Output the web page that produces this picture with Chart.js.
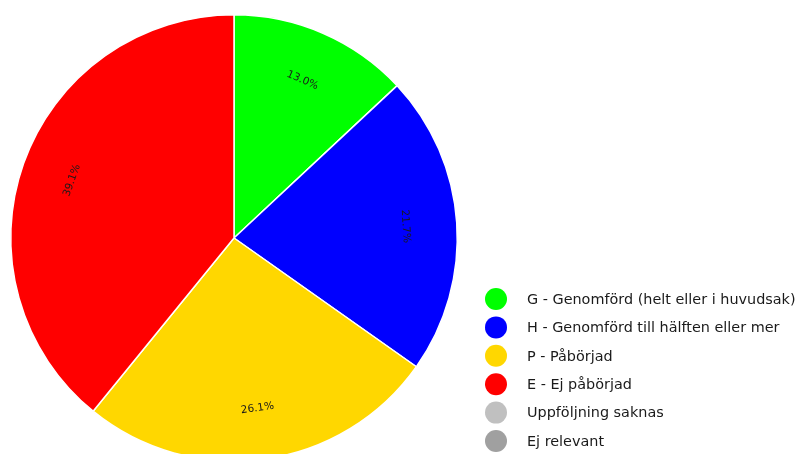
<!DOCTYPE html>
<html><head><meta charset="utf-8">
<script src="https://cdn.jsdelivr.net/npm/chart.js@4"></script>
<style>
html,body{margin:0;padding:0;background:#fff;overflow:hidden;width:800px;height:454px}
#wrap{position:relative;width:800px;height:476px}
</style></head>
<body>
<div id="wrap"><canvas id="c" width="800" height="476"></canvas></div>
<script>
const categories = ["G - Genomförd (helt eller i huvudsak)","H - Genomförd till hälften eller mer","P - Påbörjad","E - Ej påbörjad","Uppföljning saknas","Ej relevant"];
const counts = [3,5,6,9,0,0];
const colors = ["#00ff00","#0000ff","#ffd700","#ff0000","#c0c0c0","#a0a0a0"];

const FONT = "DejaVu Sans";

const sliceLabels = {
  id:'sliceLabels',
  afterDatasetsDraw(chart){
    const ctx = chart.ctx;
    const meta = chart.getDatasetMeta(0);
    const data = chart.data.datasets[0].data;
    const total = data.reduce((a,b)=>a+b,0);
    meta.data.forEach((arc,i)=>{
      const v = data[i];
      if(!v) return;
      const p = arc.getProps(['x','y','startAngle','endAngle','outerRadius'],true);
      const mid = (p.startAngle+p.endAngle)/2;
      const r = p.outerRadius*0.77;
      const x = p.x + Math.cos(mid)*r, y = p.y + Math.sin(mid)*r;
      let rot = mid + Math.PI/2;
      while(rot>Math.PI) rot-=2*Math.PI;
      while(rot<-Math.PI) rot+=2*Math.PI;
      if(rot>Math.PI/2) rot-=Math.PI;
      if(rot<-Math.PI/2) rot+=Math.PI;
      ctx.save();
      ctx.translate(x,y);
      ctx.rotate(rot);
      ctx.font = "10.5px '"+FONT+"'";
      ctx.fillStyle = "#1a1a1a";
      ctx.textAlign='center'; ctx.textBaseline='middle';
      ctx.fillText((v/total*100).toFixed(1)+"%",0,0);
      ctx.restore();
    });
  }
};

const customLegend = {
  id:'customLegend',
  afterDraw(chart){
    const ctx = chart.ctx;
    const labels = chart.data.labels;
    const cols = chart.data.datasets[0].backgroundColor;
    const x0 = 496, y0 = 299, step = 28.4;
    labels.forEach((lab,i)=>{
      const y = y0 + i*step;
      ctx.beginPath();
      ctx.arc(x0,y,11,0,Math.PI*2);
      ctx.fillStyle = cols[i];
      ctx.fill();
      ctx.font = "14.4px '"+FONT+"'";
      ctx.fillStyle = "#1a1a1a";
      ctx.textAlign='left'; ctx.textBaseline='middle';
      ctx.fillText(lab,527,y+1);
    });
  }
};

new Chart(document.getElementById('c'),{
  type:'pie',
  data:{labels:categories,datasets:[{data:counts,backgroundColor:colors,borderColor:'#ffffff',borderWidth:1.5}]},
  options:{
    responsive:false,animation:false,
    layout:{padding:{left:10,right:342,top:14,bottom:14}},
    plugins:{legend:{display:false},tooltip:{enabled:false}}
  },
  plugins:[sliceLabels,customLegend]
});
</script>
</body></html>
